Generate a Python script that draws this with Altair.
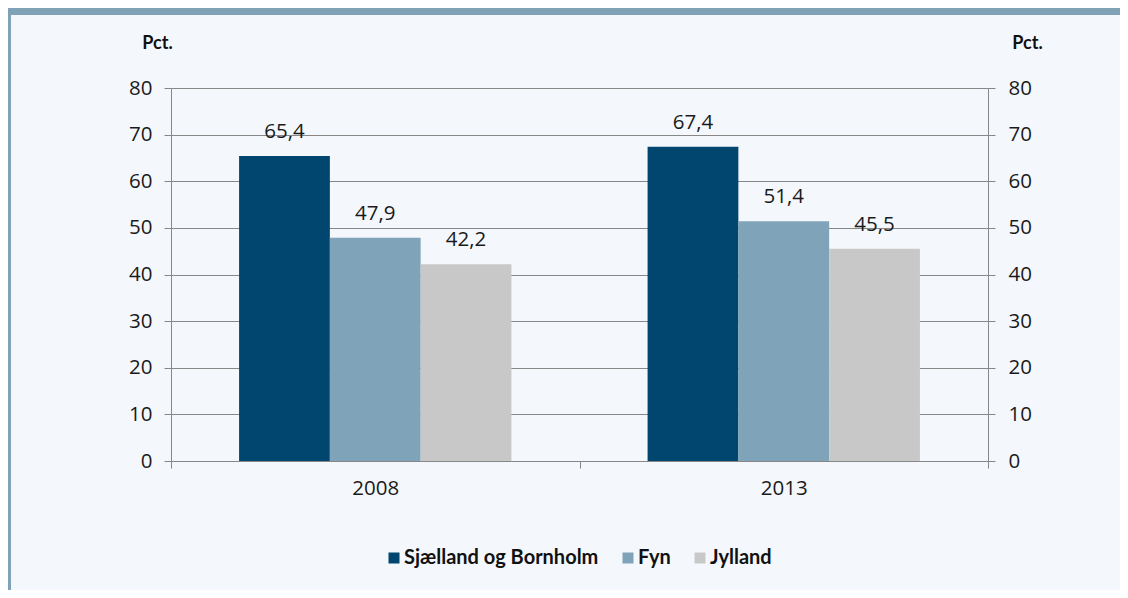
import altair as alt
import pandas as pd

years = ["2008", "2013"]
regions = ["Sjælland og Bornholm", "Fyn", "Jylland"]
values_2008 = [65.4, 47.9, 42.2]
values_2013 = [67.4, 51.4, 45.5]
colors = ["#00466E", "#7FA3B8", "#C8C8C8"]
y_ticks = [0, 10, 20, 30, 40, 50, 60, 70, 80]

rows = []
for yr, vals in zip(years, [values_2008, values_2013]):
    for reg, v in zip(regions, vals):
        rows.append({"year": yr, "region": reg, "value": v})
df = pd.DataFrame(rows)

W, H = 817, 373
PAD_L, PAD_T = 163, 80
TOTAL_W, TOTAL_H = 1112, 582
GREY = "#878787"
BG = "#F4F8FC"
BAR_BLUE = "#7FA2B7"
NUM_FONT = "Open Sans"
BOLD_FONT = "Lato"
NUM_SIZE = 20.5

x_enc = alt.X(
    "year:N",
    sort=years,
    scale=alt.Scale(paddingInner=0, paddingOuter=0),
    axis=alt.Axis(
        title=None, labelAngle=0, tickBand="extent", tickSize=7,
        tickColor=GREY, domainColor=GREY, labelPadding=10,
        labelFont=NUM_FONT, labelFontSize=NUM_SIZE, labelColor="#1a1a1a",
        grid=False,
    ),
)
xoff_enc = alt.XOffset(
    "region:N", sort=regions,
    scale=alt.Scale(domain=regions, paddingInner=0, paddingOuter=0.75),
)
y_scale = alt.Scale(domain=[0, 80], nice=False)

base = alt.Chart(df).transform_calculate(
    label="replace(format(datum.value, '.1f'), '.', ',')"
)

bars = base.mark_bar().encode(
    x=x_enc,
    xOffset=xoff_enc,
    y=alt.Y(
        "value:Q", scale=y_scale,
        axis=alt.Axis(
            orient="left", values=y_ticks, tickSize=7, labelPadding=12,
            tickColor=GREY, domainColor=GREY, grid=True, gridColor=GREY,
            gridOpacity=1, labelFont=NUM_FONT, labelFontSize=NUM_SIZE,
            labelColor="#1a1a1a",
            title="Pct.", titleAngle=0, titleX=-14, titleY=-45,
            titleAlign="center", titleBaseline="middle",
            titleFont=BOLD_FONT, titleFontSize=18, titleFontWeight="bold",
            titleColor="#111111",
        ),
    ),
    color=alt.Color(
        "region:N",
        scale=alt.Scale(domain=regions, range=colors),
        legend=alt.Legend(
            title=None, orient="none", legendX=213, legendY=460,
            direction="horizontal", symbolType="square", symbolSize=121,
            symbolStrokeWidth=0, symbolOpacity=1, labelLimit=0,
            labelFont=BOLD_FONT, labelFontSize=20, labelFontWeight="bold",
            labelColor="#111111", columnPadding=19, labelOffset=0,
        ),
    ),
)

labels = base.mark_text(
    font=NUM_FONT, fontSize=NUM_SIZE, color="#1a1a1a", baseline="middle", dy=-24
).encode(
    x=x_enc,
    xOffset=xoff_enc,
    y=alt.Y(
        "value:Q", scale=y_scale,
        axis=alt.Axis(
            orient="right", values=y_ticks, tickSize=7, labelPadding=13,
            tickColor=GREY, domainColor=GREY, grid=False,
            labelFont=NUM_FONT, labelFontSize=NUM_SIZE, labelColor="#1a1a1a",
            title="Pct.", titleAngle=0, titleX=39, titleY=-45,
            titleAlign="center", titleBaseline="middle",
            titleFont=BOLD_FONT, titleFontSize=18, titleFontWeight="bold",
            titleColor="#111111",
        ),
    ),
    text="label:N",
)

deco_data = alt.Data(values=[{"k": 1}])
top_strip = alt.Chart(deco_data).mark_rect(color=BAR_BLUE).encode(
    x=alt.value(-PAD_L), x2=alt.value(TOTAL_W - PAD_L),
    y=alt.value(-PAD_T), y2=alt.value(-PAD_T + 7),
)
left_border = alt.Chart(deco_data).mark_rect(color=BAR_BLUE).encode(
    x=alt.value(-PAD_L), x2=alt.value(-PAD_L + 3),
    y=alt.value(-PAD_T), y2=alt.value(TOTAL_H - PAD_T),
)

chart = alt.layer(top_strip, left_border, bars, labels).resolve_axis(
    y="independent"
).properties(
    width=W, height=H,
    background=BG,
    autosize=alt.AutoSizeParams(type="none"),
    padding={"left": PAD_L, "top": PAD_T, "right": TOTAL_W - PAD_L - W,
             "bottom": TOTAL_H - PAD_T - H},
).configure_view(strokeWidth=0)

chart.save("out.html", embed_options={"renderer": "svg", "actions": False})
